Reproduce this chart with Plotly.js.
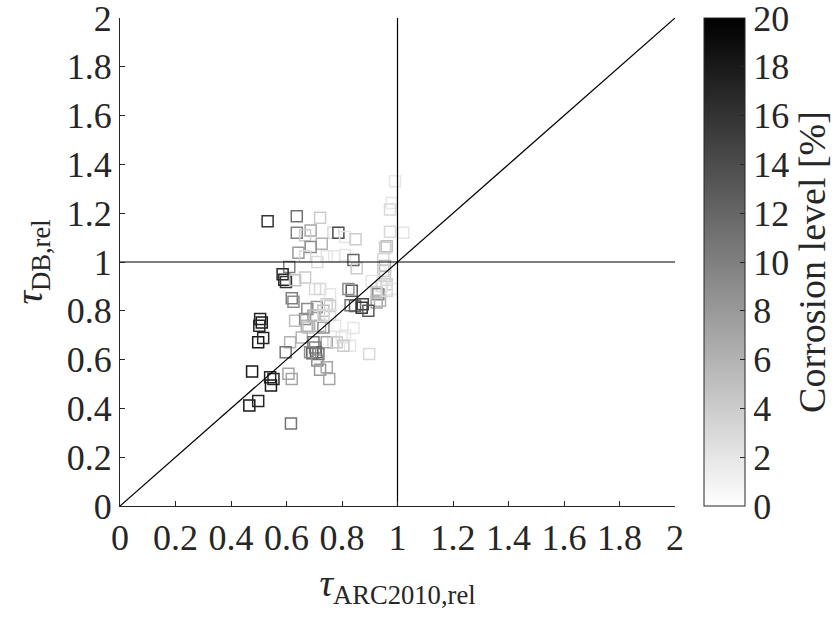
<!DOCTYPE html>
<html>
<head>
<meta charset="utf-8">
<script src="https://cdn.plot.ly/plotly-3.0.1.min.js"></script>
<style>html,body{margin:0;padding:0;background:#fff;}#chart{width:839px;height:619px;}</style>
</head>
<body>
<div id="chart"></div>
<script>
// tau_ARC2010,rel values
const tauARC = [
0.532,0.637,0.721,0.637,0.687,0.667,0.769,0.787,0.811,0.849,
0.727,0.687,0.643,0.667,0.711,0.745,0.772,0.811,0.841,0.853,
0.610,0.586,0.592,0.598,0.631,0.667,0.703,0.721,0.757,0.619,
0.625,0.991,0.979,0.973,0.973,1.021,0.961,0.955,0.949,0.955,
0.949,0.907,0.955,0.961,0.943,0.979,0.931,0.925,0.937,0.835,
0.823,0.831,0.847,0.871,0.875,0.895,0.775,0.841,0.799,0.811,
0.829,0.769,0.675,0.709,0.697,0.733,0.757,0.631,0.667,0.733,
0.679,0.703,0.673,0.721,0.745,0.505,0.511,0.502,0.498,0.516,
0.613,0.655,0.597,0.745,0.697,0.703,0.693,0.706,0.715,0.685,
0.711,0.745,0.721,0.754,0.898,0.781,0.805,0.476,0.541,0.553,
0.544,0.466,0.498,0.616,0.607,0.619,0.925,0.961,0.757,0.733
];
// tau_DB,rel values
const tauDB = [
1.167,1.188,1.181,1.120,1.129,1.110,1.120,1.120,1.102,1.093,
1.075,1.061,1.038,1.024,1.000,1.024,1.024,1.029,1.008,0.974,
0.980,0.950,0.927,0.918,0.925,0.936,0.889,0.889,0.868,0.851,
0.837,1.331,1.242,1.215,1.124,1.120,1.065,1.058,1.011,0.984,
0.963,0.922,0.943,0.909,0.902,0.889,0.868,0.834,0.841,0.882,
0.889,0.823,0.820,0.813,0.827,0.800,0.739,0.730,0.691,0.698,
0.657,0.671,0.807,0.816,0.780,0.800,0.820,0.759,0.766,0.732,
0.732,0.780,0.739,0.739,0.827,0.766,0.752,0.739,0.671,0.689,
0.671,0.691,0.630,0.671,0.671,0.650,0.626,0.630,0.623,0.630,
0.596,0.569,0.558,0.521,0.623,0.671,0.657,0.551,0.528,0.521,
0.494,0.412,0.430,0.338,0.542,0.521,0.875,0.882,0.783,0.780
];
// corrosion level [%]
const corrosion = [
16,11,4,10,7,4,3,14,2,4,
6,9,8,3,3,2,2,2,12,4,
10,17,17,16,5,4,3,3,2,10,
9,2,2,3,3,2,5,4,3,6,
4,2,4,4,3,2,9,7,6,13,
9,11,12,16,15,13,2,2,2,2,
2,3,9,8,8,5,4,5,9,9,
5,5,6,6,4,17,18,17,18,17,
6,6,11,7,11,10,13,12,11,9,
9,7,8,7,3,4,4,18,17,17,
18,18,17,11,7,7,5,3,3,3
];
// reference lines
const diagX = [0, 2], diagY = [0, 2];
const hLineX = [0, 2], hLineY = [1, 1];
const vLineX = [1, 1], vLineY = [0, 2];
const axisTicks = [0,0.2,0.4,0.6,0.8,1,1.2,1.4,1.6,1.8,2];
const cbTicks = [0,2,4,6,8,10,12,14,16,18,20];

const FONT = 'Liberation Serif';
const TICK = 36, TITLE = 38;
const lineStyle = {color: '#000', width: 1.2};

const traces = [
  {
    type: 'scatter', mode: 'markers', x: tauARC, y: tauDB,
    marker: {
      symbol: 'square-open', size: 11, color: corrosion,
      cmin: 0, cmax: 20,
      colorscale: [[0, '#ffffff'], [1, '#000000']],
      line: {width: 1.5},
      showscale: true,
      colorbar: {
        x: 1.052, xanchor: 'left', xref: 'paper', xpad: 0, ypad: 0,
        y: 0, yanchor: 'bottom', len: 1, lenmode: 'fraction',
        thickness: 41, thicknessmode: 'pixels',
        outlinewidth: 1, outlinecolor: '#262626',
        tickmode: 'array', tickvals: cbTicks, ticktext: cbTicks.map(String),
        ticks: 'inside', ticklen: 5, tickcolor: '#262626',
        ticklabeloverflow: 'allow',
        tickfont: {family: FONT, size: TICK, color: '#262626'},
        title: {text: 'Corrosion level [%]', side: 'right', font: {family: FONT, size: TITLE, color: '#262626'}}
      }
    },
    showlegend: false, hoverinfo: 'none'
  },
  {type: 'scatter', mode: 'lines', x: diagX, y: diagY, line: lineStyle, showlegend: false, hoverinfo: 'none'},
  {type: 'scatter', mode: 'lines', x: hLineX, y: hLineY, line: lineStyle, showlegend: false, hoverinfo: 'none'},
  {type: 'scatter', mode: 'lines', x: vLineX, y: vLineY, line: lineStyle, showlegend: false, hoverinfo: 'none'}
];

const axisCommon = {
  range: [0, 2], tickmode: 'array', tickvals: axisTicks, ticktext: axisTicks.map(String),
  ticks: 'inside', ticklen: 5, tickcolor: '#262626', tickwidth: 1,
  showline: true, linecolor: '#262626', linewidth: 1, mirror: false,
  showgrid: false, zeroline: false,
  ticklabeloverflow: 'allow',
  tickfont: {family: FONT, size: TICK, color: '#262626'}
};

const layout = {
  width: 839, height: 619,
  margin: {l: 120, r: 164, t: 18, b: 113, autoexpand: false},
  paper_bgcolor: '#ffffff', plot_bgcolor: '#ffffff',
  font: {family: FONT, color: '#262626'},
  xaxis: Object.assign({}, axisCommon, {
    title: {text: '<i>τ</i><sub>ARC2010,rel</sub>', font: {family: FONT, size: TITLE, color: '#262626'}, standoff: 12}
  }),
  yaxis: Object.assign({}, axisCommon, {
    title: {text: '<i>τ</i><sub>DB,rel</sub>', font: {family: FONT, size: TITLE, color: '#262626'}, standoff: 12}
  })
};

Plotly.newPlot('chart', traces, layout, {displayModeBar: false, staticPlot: true});
</script>
</body>
</html>
